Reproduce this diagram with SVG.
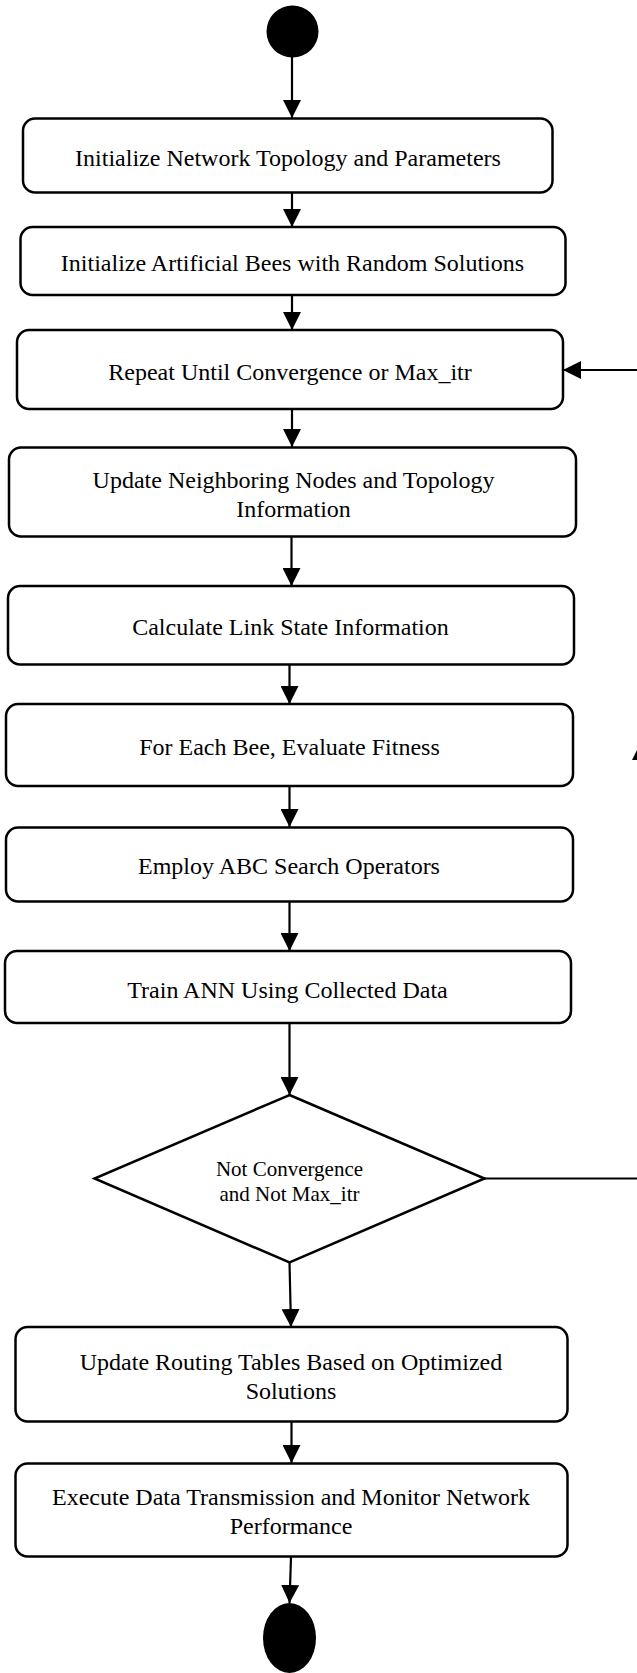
<svg xmlns="http://www.w3.org/2000/svg" width="637" height="1673" viewBox="0 0 637 1673">
  <style>
    .box { fill: #ffffff; stroke: #000000; stroke-width: 2.5; }
    .lbl { font-family: "Liberation Serif", "Times New Roman", serif; font-size: 24px; fill: #000000; text-anchor: middle; }
    .sm { font-size: 21px; }
    .edge { fill: none; stroke: #000000; stroke-width: 2.2; }
    .terminal { fill: #000000; }
  </style>
  <defs>
    <marker id="arrow" markerUnits="userSpaceOnUse" markerWidth="18" markerHeight="18" viewBox="0 0 16 16" refX="16" refY="8" orient="auto">
      <path d="M0,0 L16,8 L0,16 Z" fill="#000000"/>
    </marker>
  </defs>

  <rect width="637" height="1673" fill="#ffffff"/>

  <!-- flow connectors -->
  <g id="connectors">
    <path class="edge" d="M292,57 L292,118" marker-end="url(#arrow)"/>
    <path class="edge" d="M292,193 L292,227" marker-end="url(#arrow)"/>
    <path class="edge" d="M292,295 L292,330" marker-end="url(#arrow)"/>
    <path class="edge" d="M292,409 L292,447" marker-end="url(#arrow)"/>
    <path class="edge" d="M291.5,537 L291.5,586" marker-end="url(#arrow)"/>
    <path class="edge" d="M289.5,664 L289.5,704" marker-end="url(#arrow)"/>
    <path class="edge" d="M289.5,786 L289.5,827" marker-end="url(#arrow)"/>
    <path class="edge" d="M289.5,902 L289.5,951" marker-end="url(#arrow)"/>
    <path class="edge" d="M289.5,1023 L289.5,1095" marker-end="url(#arrow)"/>
    <path class="edge" d="M289.5,1262 L291,1327" marker-end="url(#arrow)"/>
    <path class="edge" d="M291.5,1422 L291.5,1463" marker-end="url(#arrow)"/>
    <path class="edge" d="M291,1557 L289.5,1603" marker-end="url(#arrow)"/>
    <!-- loop back from the decision to the repeat step -->
    <path class="edge" d="M484,1178.5 L640,1178.5"/>
    <path class="edge" d="M640,1178.5 L640,760"/>
    <polygon points="640,744 648,760 632,760" fill="#000000"/>
    <path class="edge" d="M640,370 L563,370" marker-end="url(#arrow)"/>
  </g>

  <g id="start">
    <ellipse class="terminal" cx="292.5" cy="31.5" rx="26" ry="26"/>
  </g>

  <g id="init-network">
    <rect class="box" x="23" y="118.5" width="529.5" height="74" rx="12"/>
    <text class="lbl" x="288" y="166">Initialize Network Topology and Parameters</text>
  </g>

  <g id="init-bees">
    <rect class="box" x="20.5" y="227" width="545" height="68" rx="12"/>
    <text class="lbl" x="292.5" y="271">Initialize Artificial Bees with Random Solutions</text>
  </g>

  <g id="repeat">
    <rect class="box" x="17" y="330" width="546" height="79" rx="12"/>
    <text class="lbl" x="290" y="380">Repeat Until Convergence or Max_itr</text>
  </g>

  <g id="update-neighbors">
    <rect class="box" x="9" y="447.5" width="567" height="89" rx="12"/>
    <text class="lbl" x="293.5" y="488">Update Neighboring Nodes and Topology</text>
    <text class="lbl" x="293.5" y="516.5">Information</text>
  </g>

  <g id="link-state">
    <rect class="box" x="8" y="586" width="566" height="78.5" rx="12"/>
    <text class="lbl" x="290.5" y="635">Calculate Link State Information</text>
  </g>

  <g id="fitness">
    <rect class="box" x="6" y="704" width="567" height="82" rx="12"/>
    <text class="lbl" x="289.5" y="755">For Each Bee, Evaluate Fitness</text>
  </g>

  <g id="abc-search">
    <rect class="box" x="6" y="827.5" width="567" height="74" rx="12"/>
    <text class="lbl" x="289" y="874">Employ ABC Search Operators</text>
  </g>

  <g id="train-ann">
    <rect class="box" x="5" y="951" width="566" height="72" rx="12"/>
    <text class="lbl" x="287.5" y="997.5">Train ANN Using Collected Data</text>
  </g>

  <g id="decision">
    <polygon class="box" points="289.5,1095 484.5,1178.5 289.5,1262.5 94.5,1178.5"/>
    <text class="lbl sm" x="289.5" y="1175.5">Not Convergence</text>
    <text class="lbl sm" x="289.5" y="1200.5">and Not Max_itr</text>
  </g>

  <g id="routing-tables">
    <rect class="box" x="15.5" y="1327" width="552" height="94.5" rx="12"/>
    <text class="lbl" x="291" y="1370">Update Routing Tables Based on Optimized</text>
    <text class="lbl" x="291" y="1398.5">Solutions</text>
  </g>

  <g id="transmission">
    <rect class="box" x="15.5" y="1463.5" width="552" height="93" rx="12"/>
    <text class="lbl" x="291" y="1505">Execute Data Transmission and Monitor Network</text>
    <text class="lbl" x="291" y="1533.5">Performance</text>
  </g>

  <g id="end">
    <ellipse class="terminal" cx="289.5" cy="1638" rx="26.5" ry="35"/>
  </g>
</svg>
